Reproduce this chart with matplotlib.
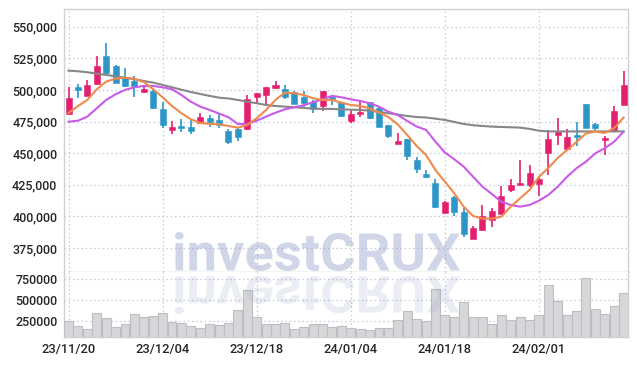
import matplotlib
matplotlib.use("Agg")
import matplotlib.pyplot as plt
import numpy as np
from matplotlib.textpath import TextPath
from matplotlib.patches import PathPatch
from matplotlib.font_manager import FontProperties
from matplotlib.transforms import Affine2D
from matplotlib.ticker import FuncFormatter

dates = [
    "23/11/20", "23/11/21", "23/11/22", "23/11/23", "23/11/24", "23/11/27", "23/11/28", "23/11/29", "23/11/30", "23/12/01",
    "23/12/04", "23/12/05", "23/12/06", "23/12/07", "23/12/08", "23/12/11", "23/12/12", "23/12/13", "23/12/14", "23/12/15",
    "23/12/18", "23/12/19", "23/12/20", "23/12/21", "23/12/22", "23/12/26", "23/12/27", "23/12/28", "24/01/02", "24/01/03",
    "24/01/04", "24/01/05", "24/01/08", "24/01/09", "24/01/10", "24/01/11", "24/01/12", "24/01/15", "24/01/16", "24/01/17",
    "24/01/18", "24/01/19", "24/01/22", "24/01/23", "24/01/24", "24/01/25", "24/01/26", "24/01/29", "24/01/30", "24/01/31",
    "24/02/01", "24/02/02", "24/02/05", "24/02/06", "24/02/07", "24/02/08", "24/02/13", "24/02/14", "24/02/15", "24/02/16",
]
tick_labels = ["23/11/20", "23/12/04", "23/12/18", "24/01/04", "24/01/18", "24/02/01"]

open_ = [480700, 502400, 495500, 504500, 527000, 519000, 509300, 507400, 498400, 499200,
         484900, 468500, 471700, 470900, 474000, 477800, 476200, 467500, 469000, 468800,
         494700, 496300, 501600, 500800, 498200, 494400, 490200, 487500, 494700, 490500,
         475600, 481200, 490200, 485500, 472200, 457400, 460900, 444400, 433600, 426700,
         402900, 415300, 403400, 382000, 388900, 397400, 401800, 420900, 424900, 424900,
         425400, 450200, 464500, 453200, 464300, 488900, 473000, 460100, 467500, 488300]
high = [502600, 504800, 507900, 527000, 537000, 520100, 517200, 511100, 504000, 499800,
        490700, 475600, 477200, 476700, 482000, 480200, 481500, 469000, 470900, 496000,
        497600, 502100, 507100, 504000, 499400, 499400, 492100, 499200, 496000, 490500,
        485000, 490500, 490700, 486500, 472500, 465600, 461500, 447100, 436700, 429900,
        412500, 416400, 406900, 392600, 409000, 406900, 423800, 429900, 444400, 441000,
        432300, 468300, 477500, 469300, 474400, 489000, 473800, 463700, 487500, 514800]
low = [480500, 493400, 495000, 504000, 511900, 505300, 502100, 494700, 497400, 485200,
       470100, 464800, 466900, 465100, 473500, 470900, 469600, 457400, 459500, 468500,
       488900, 488900, 500500, 492900, 489000, 485500, 482000, 483300, 488100, 479000,
       474000, 478300, 477000, 470500, 462100, 457000, 444200, 434700, 430700, 406700,
       402400, 400200, 383600, 381800, 388500, 391500, 401500, 419300, 424500, 423300,
       416100, 432500, 456300, 452500, 455600, 470000, 468300, 448400, 467000, 488000]
close = [493400, 500200, 504000, 519000, 513700, 505800, 503400, 503400, 500800, 486000,
         472500, 470600, 470100, 467700, 478600, 474800, 472000, 459000, 462700, 492600,
         497600, 502100, 504200, 494400, 489100, 489700, 485200, 499200, 493100, 479600,
         481000, 482800, 478000, 470900, 463700, 459500, 447900, 437300, 431200, 407100,
         411700, 403400, 386300, 390500, 400000, 404200, 416100, 424900, 426400, 434100,
         429600, 461100, 466700, 462700, 462900, 470100, 469600, 461700, 483300, 504000]
volume = [246000, 184000, 146000, 339000, 279000, 170000, 208000, 327000, 293000, 305000,
          339000, 230000, 218000, 184000, 158000, 206000, 194000, 222000, 375000, 621000,
          293000, 208000, 206000, 220000, 146000, 172000, 206000, 206000, 176000, 186000,
          162000, 146000, 134000, 158000, 158000, 254000, 363000, 267000, 246000, 629000,
          317000, 291000, 472000, 291000, 291000, 206000, 315000, 254000, 291000, 254000,
          315000, 677000, 484000, 315000, 363000, 762000, 388000, 327000, 424000, 581000]
ma_short = [481800, 487300, 492100, 500600, 506600, 508900, 509700, 508900, 506300, 500600,
            494200, 487300, 481600, 476800, 473900, 473100, 472900, 471500, 470200, 472300,
            477600, 484200, 492100, 497900, 497400, 496000, 493400, 492100, 492100, 490000,
            488100, 487300, 485500, 482200, 478600, 472700, 464400, 455700, 448600, 436700,
            427500, 418300, 407700, 400300, 398200, 398200, 399800, 407700, 414300, 420900,
            431200, 438300, 446200, 452500, 458900, 465600, 467000, 466000, 469800, 478200]
ma_mid = [474900, 475700, 478900, 485500, 492100, 496600, 500000, 502100, 503200, 503200,
          502100, 500600, 496000, 490700, 486800, 484200, 481300, 478400, 473100, 473100,
          475700, 478900, 482000, 484700, 486300, 487900, 490300, 492600, 495300, 494200,
          492600, 491300, 489500, 486800, 482800, 480200, 475500, 471100, 468400, 459100,
          450600, 445200, 439300, 431400, 423500, 417700, 411600, 409000, 407700, 409000,
          412400, 416900, 423500, 431400, 438100, 443300, 449900, 453900, 459100, 467000]
ma_long = [515300, 514800, 514000, 512900, 511900, 510800, 509700, 508500, 507100, 505800,
           504000, 502100, 500200, 498400, 496800, 495300, 493900, 493300, 492100, 490700,
           489500, 488100, 487300, 486800, 486300, 485800, 485200, 485000, 485000, 484700,
           484400, 484200, 483600, 482600, 481600, 480500, 479400, 478600, 478200, 477300,
           476300, 474700, 473100, 472100, 471500, 471000, 470700, 470500, 470200, 469200,
           467800, 467200, 467200, 467200, 467200, 467200, 467200, 467200, 467200, 467200]
price_ticks = [375000, 400000, 425000, 450000, 475000, 500000, 525000, 550000]
vol_ticks = [250000, 500000, 750000]

UP = "#e3206f"
DOWN = "#2c96c8"
GRID = "#c3c8dc"
SPINE = "#cfcfd4"
TXT = "#262626"

plt.rcParams['font.family'] = ['Roboto', 'DejaVu Sans']

W, H = 637, 366
fig = plt.figure(figsize=(W / 100, H / 100), dpi=100)
L, R = 64.3 / W, 628.3 / W
ax = fig.add_axes([L, 1 - 272 / H, R - L, (272 - 9.3) / H])
axv = fig.add_axes([L, 1 - 337.3 / H, R - L, (337.3 - 272) / H], sharex=ax)

n = len(dates)
x = np.arange(n)
o = np.array(open_); c = np.array(close); h = np.array(high); l = np.array(low)
up = c >= o
cols = np.where(up, UP, DOWN)

ax.vlines(x, l, h, colors=cols, linewidth=1.2, zorder=3)
bottoms = np.minimum(o, c)
heights = np.maximum(np.abs(c - o), 1200)
ax.bar(x, heights, bottom=bottoms, width=0.64, color=cols, edgecolor=cols, linewidth=0.4, zorder=4)

ax.plot(x, ma_long, color="#878787", linewidth=1.5, zorder=5)
ax.plot(x, ma_mid, color="#c95be8", linewidth=1.5, zorder=5)
ax.plot(x, ma_short, color="#ef8a4c", linewidth=1.5, zorder=5)

ax.set_ylim(356000, 563800)
ax.set_xlim(-0.45, n - 0.5)
ax.set_yticks(price_ticks)
ax.yaxis.set_major_formatter(FuncFormatter(lambda v, p: f"{int(v):,}"))

axv.bar(x, volume, width=0.95, color="#d7d7da", edgecolor="#bdbdc2", linewidth=0.8, zorder=3)
axv.set_ylim(50000, 838000)
axv.set_yticks(vol_ticks)
axv.yaxis.set_major_formatter(FuncFormatter(lambda v, p: f"{int(v)}"))

tick_pos = [dates.index(t) for t in tick_labels]
axv.set_xticks(tick_pos)
axv.set_xticklabels(tick_labels)
plt.setp(ax.get_xticklabels(), visible=False)

for a in (ax, axv):
    a.grid(True, color=GRID, linestyle=(0, (1.2, 2.2)), linewidth=0.9, zorder=0)
    a.set_axisbelow(True)
    for s in a.spines.values():
        s.set_color(SPINE)
        s.set_linewidth(1.0)
    a.tick_params(length=0, colors=TXT)
for lab in ax.get_yticklabels() + axv.get_yticklabels() + axv.get_xticklabels():
    lab.set_fontweight('medium')
ax.tick_params(axis='y', labelsize=9, pad=5)
axv.tick_params(axis='y', labelsize=9, pad=5)
axv.tick_params(axis='x', labelsize=9.3, pad=4)
axv.spines['top'].set_visible(False)
ax.spines['bottom'].set_color("#c8c8cc")

fp = FontProperties(family='Roboto', weight='bold')
tp = TextPath((0, 0), "investCRUX", size=100, prop=fp)
ext = tp.get_extents()
def place(x0, x1, ybase, ytop, alpha, z):
    fx0, fx1 = x0 / W, x1 / W
    fyb, fyt = 1 - ybase / H, 1 - ytop / H
    tr = (Affine2D().translate(-ext.x0, -ext.y0)
          .scale((fx1 - fx0) / ext.width, (fyt - fyb) / ext.height)
          .translate(fx0, fyb)) + fig.transFigure
    p = PathPatch(tp, transform=tr, facecolor="#98a6cc", edgecolor="none", alpha=alpha, zorder=z)
    fig.add_artist(p)
place(175, 460, 271, 232, 0.45, 10)
place(175, 460, 276, 314, 0.2, 10)

fig.savefig("out.png", dpi=100)
